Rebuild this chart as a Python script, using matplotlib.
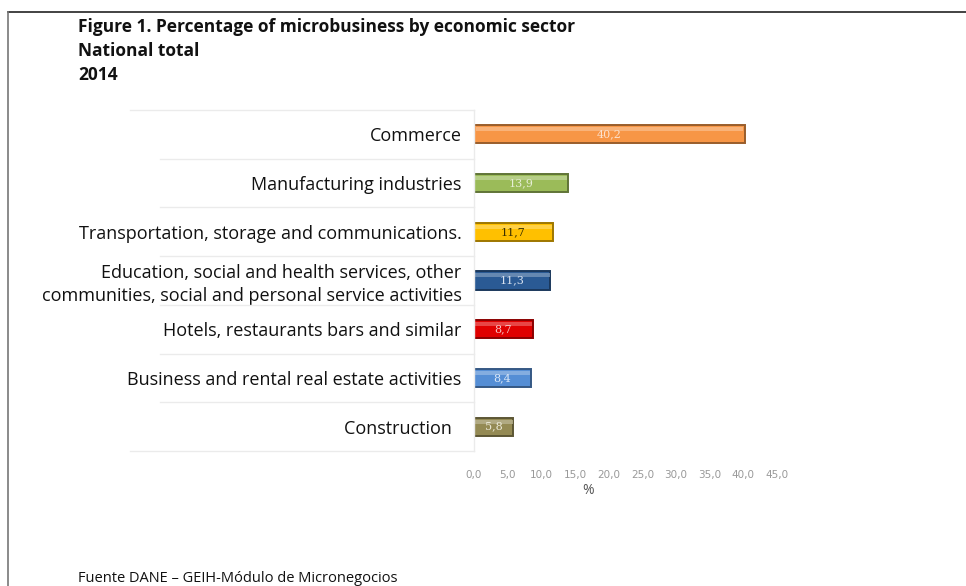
import matplotlib
matplotlib.use("Agg")
import matplotlib.pyplot as plt
from matplotlib.lines import Line2D
from matplotlib.ticker import FuncFormatter
import matplotlib.colors as mcolors

# Data
sectors = [
    "Commerce",
    "Manufacturing industries",
    "Transportation, storage and communications.",
    "Education, social and health services, other\ncommunities, social and personal service activities",
    "Hotels, restaurants bars and similar",
    "Business and rental real estate activities",
    "Construction  ",
]
shares = [40.2, 13.9, 11.7, 11.3, 8.7, 8.4, 5.8]
bar_colors = ["#F79646", "#9BBB59", "#FFC000", "#2A5A94", "#E00000", "#558ED5", "#948A54"]
label_colors = ["#FCE2CF", "#E6EED6", "#3A3000", "#D8E2F0", "#F6C6C6", "#DCE8F8", "#ECEAD8"]
x_ticks = [0, 5, 10, 15, 20, 25, 30, 35, 40, 45]

W, H = 966, 586
fig = plt.figure(figsize=(W / 100, H / 100), dpi=100)
fig.patch.set_facecolor("white")

def fx(px):
    return px / W

def fy(py):
    return 1 - py / H

# Outer frame (top and left edges)
fig.add_artist(Line2D([fx(8), fx(966)], [fy(12), fy(12)], color="#222222", lw=1.2))
fig.add_artist(Line2D([fx(8), fx(8)], [fy(12), fy(586)], color="#777777", lw=1.2))

# Title block
title_lines = ["Figure 1. Percentage of microbusiness by economic sector", "National total", "2014"]
for i, t in enumerate(title_lines):
    fig.text(fx(78), fy(27 + i * 24), t, fontsize=12.5, fontweight="bold",
             family="Open Sans", va="center", ha="left", color="#111111")

# Source note
fig.text(fx(78), fy(571), "Fuente DANE \u2013 GEIH-Módulo de Micronegocios",
         fontsize=10.5, family="Open Sans", va="top", ha="left", color="#111111")

# Plot area
top_px, bot_px = 110, 451
left_px, right_px = 474, 777
ax = fig.add_axes([fx(left_px), fy(bot_px), fx(right_px - left_px), (bot_px - top_px) / H])
ax.set_xlim(0, 45)
ax.set_ylim(len(sectors) - 0.5, -0.5)

bar_h = 0.37
for i, (v, c, lc) in enumerate(zip(shares, bar_colors, label_colors)):
    dark = tuple(x * 0.62 for x in mcolors.to_rgb(c))
    light = tuple(x + (1 - x) * 0.35 for x in mcolors.to_rgb(c))
    ax.barh(i, v, height=bar_h, color=c, edgecolor=dark, linewidth=1.4, zorder=2)
    # bevel highlight along the top of each bar
    ax.barh(i - bar_h * 0.28, v * 0.985, left=v * 0.0075, height=bar_h * 0.22,
            color=light, linewidth=0, alpha=0.8, zorder=3)
    ax.text(v / 2, i, f"{v:.1f}".replace(".", ","), ha="center", va="center",
            fontsize=8, family="DejaVu Serif", color=lc, zorder=4)

for s in ax.spines.values():
    s.set_visible(False)

ax.set_yticks(range(len(sectors)))
ax.set_yticklabels(sectors, fontsize=13, family="Open Sans", color="#111111",
                   linespacing=1.3)
ax.tick_params(axis="y", length=0, pad=9)

ax.set_xticks(x_ticks)
ax.xaxis.set_major_formatter(FuncFormatter(lambda v, p: f"{v:.1f}".replace(".", ",")))
ax.tick_params(axis="x", length=0, pad=14, labelsize=7.5, labelcolor="#999999")
ax.set_xlabel("%", fontsize=10, color="#555555", family="Open Sans")
ax.xaxis.set_label_coords((588 - left_px) / (right_px - left_px), -(490 - bot_px) / (bot_px - top_px))
ax.xaxis.label.set_va("center")

# Row separators in the label area
row_h = (bot_px - top_px) / len(sectors)
for k in range(len(sectors) + 1):
    y = top_px + k * row_h
    x0 = 130 if k in (0, len(sectors)) else 160
    fig.add_artist(Line2D([fx(x0), fx(left_px)], [fy(y), fy(y)], color="#EBEBEB", lw=1.0))
fig.add_artist(Line2D([fx(left_px), fx(left_px)], [fy(top_px), fy(bot_px)], color="#EBEBEB", lw=1.0))

fig.savefig("out.png", dpi=100)
